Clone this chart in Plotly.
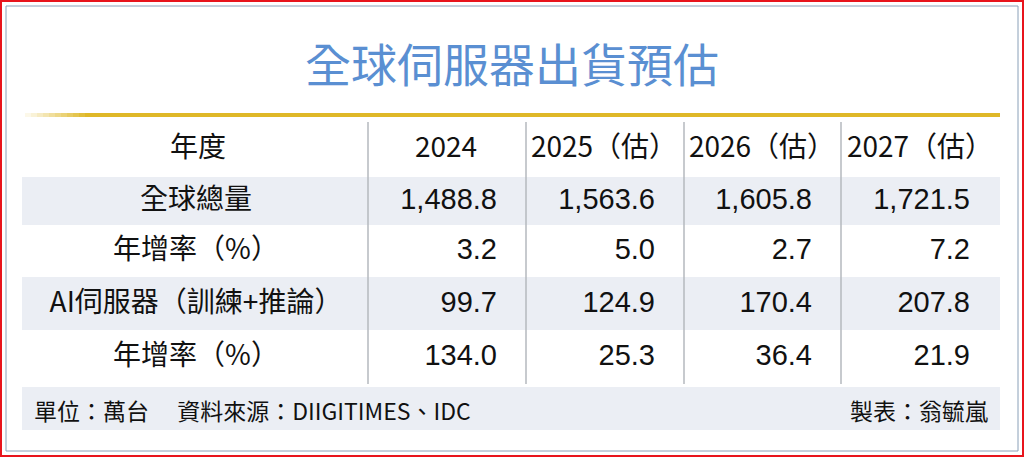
import plotly.graph_objects as go

# Table data
title = "全球伺服器出貨預估"
header_label = "年度"
years = ["2024", "2025（估）", "2026（估）", "2027（估）"]
row_labels = ["全球總量", "年增率（%）", "AI伺服器（訓練+推論）", "年增率（%）"]
total = ["1,488.8", "1,563.6", "1,605.8", "1,721.5"]
total_growth = ["3.2", "5.0", "2.7", "7.2"]
ai_servers = ["99.7", "124.9", "170.4", "207.8"]
ai_growth = ["134.0", "25.3", "36.4", "21.9"]
footer_left = "單位：萬台　 資料來源：DIIGITIMES、IDC"
footer_right = "製表：翁毓嵐"

rows = [total, total_growth, ai_servers, ai_growth]

W, H = 1024, 457
FONT = "Liberation Sans, Noto Sans CJK TC, sans-serif"
CJK = "Noto Sans CJK TC, sans-serif"
shade = "#ebeef4"

row_y = [202, 252, 305, 358]      # row text centres
row_band = [(177, 225), (225, 277), (277, 330), (330, 384)]
col_right = [497, 655, 812, 970]
col_center = [446, 604, 762, 920]
dividers = [368, 526, 684, 841]

fig = go.Figure()
shapes = []
# borders
shapes.append(dict(type="rect", x0=1, y0=1, x1=W - 1, y1=H - 1, line=dict(color="#e8141c", width=2)))
shapes.append(dict(type="rect", x0=6, y0=6, x1=W - 6, y1=H - 6, line=dict(color="#8aa0b8", width=1)))
# gold rule with fade at left
for i in range(10):
    shapes.append(dict(type="line", x0=25 + i * 6, x1=31 + i * 6, y0=115, y1=115,
                       line=dict(color="rgba(222,184,40,%.2f)" % (0.1 + i * 0.09), width=4)))
shapes.append(dict(type="line", x0=85, x1=1000, y0=115, y1=115, line=dict(color="#dfb828", width=4)))
# shaded bands
for k, (a, b) in enumerate(row_band):
    if k % 2 == 0:
        shapes.append(dict(type="rect", x0=22, x1=1000, y0=a, y1=b, fillcolor=shade, line=dict(width=0), layer="below"))
shapes.append(dict(type="rect", x0=22, x1=1000, y0=387, y1=430, fillcolor=shade, line=dict(width=0), layer="below"))
for x in dividers:
    shapes.append(dict(type="line", x0=x, x1=x, y0=122, y1=384, line=dict(color="#b4b8be", width=1.5)))

# header
fig.add_trace(go.Scatter(x=[198] + col_center, y=[150] * 5, mode="text",
                         text=[header_label] + years,
                         textfont=dict(family=CJK, size=28, color="#111"), hoverinfo="skip"))
# row labels
fig.add_trace(go.Scatter(x=[196] * len(row_labels), y=row_y, mode="text", text=row_labels,
                         textfont=dict(family=CJK, size=28, color="#111"), hoverinfo="skip"))
# values (right aligned)
for j, xr in enumerate(col_right):
    fig.add_trace(go.Scatter(x=[xr] * len(rows), y=row_y, mode="text",
                             text=[r[j] for r in rows], textposition="middle left",
                             textfont=dict(family=FONT, size=29, color="#111"), hoverinfo="skip"))

annotations = [
    dict(x=W / 2, y=62, text=title, showarrow=False,
         font=dict(family=CJK, size=46, color="#5a8fd2")),
    dict(x=32, y=410, text=footer_left, xanchor="left", showarrow=False,
         font=dict(family=CJK, size=23, color="#111")),
    dict(x=990, y=410, text=footer_right, xanchor="right", showarrow=False,
         font=dict(family=CJK, size=23, color="#111")),
]

fig.update_layout(
    width=W, height=H, margin=dict(l=0, r=0, t=0, b=0),
    paper_bgcolor="white", plot_bgcolor="white", showlegend=False,
    xaxis=dict(range=[0, W], visible=False, fixedrange=True),
    yaxis=dict(range=[H, 0], visible=False, fixedrange=True),
    shapes=shapes, annotations=annotations,
)
fig.write_html("out.html", config={"displayModeBar": False},
               post_script="document.body.style.margin='0';document.body.style.overflow='hidden';")
